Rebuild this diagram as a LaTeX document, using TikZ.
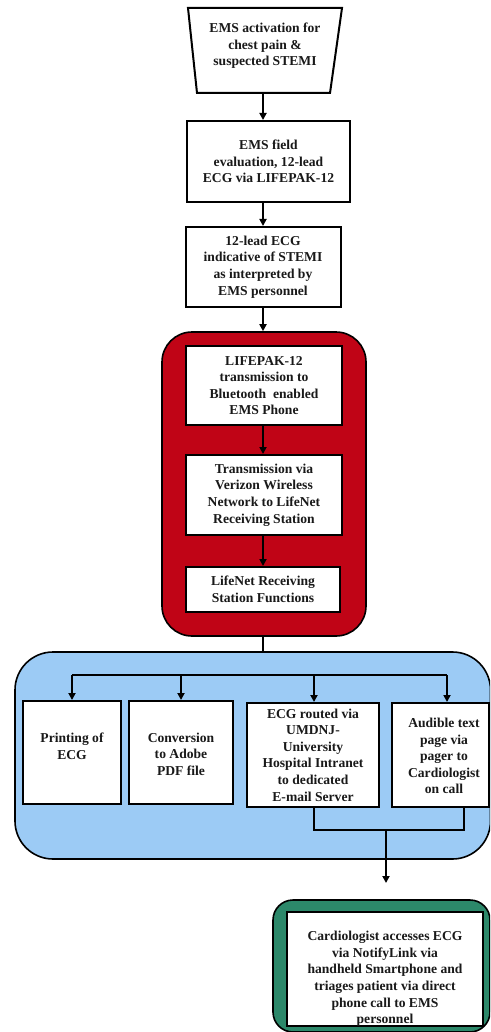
\documentclass[tikz,border=0pt]{standalone}
\usepackage{fontspec}
\setmainfont{Liberation Serif}
\usetikzlibrary{arrows.meta}
\definecolor{stemired}{RGB}{192,4,22}
\definecolor{panelblue}{RGB}{156,203,245}
\definecolor{panelgreen}{RGB}{44,136,106}
\definecolor{inkc}{RGB}{25,25,25}
\tikzset{
  txt/.style={font=\bfseries\fontsize{13.6}{16.6}\selectfont, text=inkc, align=center, inner sep=0pt},
  stepbox/.style={draw=black, line width=2pt, fill=white, txt},
  panel/.style={draw=black, line width=1.6pt, rounded corners=#1},
  conn/.style={draw=black, line width=2.4pt},
  arr/.style={conn, -{Triangle[length=7pt,width=7pt]}}
}
\begin{document}
\begin{tikzpicture}[x=1pt,y=-1pt]
\useasboundingbox (0,0) rectangle (490,1032);
\clip (0,0) rectangle (490,1032);
\fill[white] (0,0) rectangle (490,1032);

% top trapezoid
\draw[line width=2pt, fill=white] (188,8) -- (342,8) -- (330,93) -- (197,93) -- cycle;
\node[txt] (t1) at (265,46) {EMS activation for\\chest pain \&\\suspected STEMI};
\coordinate (t1b) at (263,93);

\node[stepbox, minimum width=163, minimum height=81] (b2) at (268.5,161.5) {EMS field\\evaluation, 12-lead\\ECG via LIFEPAK-12};
\node[stepbox, minimum width=155, minimum height=80] (b3) at (263,267) {12-lead ECG\\indicative of STEMI\\as interpreted by\\EMS personnel};

% red panel
\node[panel=30pt, fill=stemired, minimum width=204, minimum height=304, inner sep=0pt] (red) at (264,484) {};
\node[stepbox, minimum width=156, minimum height=79] (r1) at (264,385.5) {LIFEPAK-12\\transmission to\\Bluetooth\ \ enabled\\EMS Phone};
\node[stepbox, minimum width=156, minimum height=80] (r2) at (264,495) {Transmission via\\Verizon Wireless\\Network to LifeNet\\Receiving Station};
\node[stepbox, minimum width=154, minimum height=45] (r3) at (263,589.5) {LifeNet Receiving\\Station Functions};

% blue panel
\node[panel=38pt, fill=panelblue, minimum width=475.5, minimum height=207, inner sep=0pt] (blue) at (252.75,755.5) {};
\node[stepbox, minimum width=98, minimum height=103] (a) at (72,752.5) {};
\node[txt] (at) at (72,746) {Printing of\\ECG};
\node[stepbox, minimum width=104, minimum height=103] (b) at (181,752.5) {};
\node[txt] (bt) at (181,754) {Conversion\\to Adobe\\PDF file};
\node[stepbox, minimum width=132, minimum height=104] (c) at (313,755) {ECG routed via\\UMDNJ-\\University\\Hospital Intranet\\to dedicated\\E-mail Server};
\node[stepbox, minimum width=97, minimum height=104] (d) at (440.5,755) {};
\node[txt] (dt) at (444,756) {Audible text\\page via\\pager to\\Cardiologist\\on call};

% green panel
\node[panel=20pt, fill=panelgreen, minimum width=217, minimum height=132, inner sep=0pt] (green) at (381.5,966) {};
\node[draw=black, line width=2pt, fill=white, minimum width=196, minimum height=114, inner sep=0pt] (g) at (385,969) {};
\node[txt] (gt) at (385,979) {Cardiologist accesses ECG\\via NotifyLink via\\handheld Smartphone and\\triages patient via direct\\phone call to EMS\\personnel};

% connectors
\coordinate (dl) at (72,675);
\coordinate (dr) at (447,675);
\coordinate (jn) at (314,830);
\coordinate (jr) at (464,830);
\coordinate (jm) at (386,830);
\coordinate (tip) at (386,883);

\draw[arr] (t1b) -- (t1b |- b2.north);
\draw[arr] (b2.south -| b3) -- (b3.north);
\draw[arr] (b3.south) -- (b3.south |- red.north);
\draw[arr] (r1.south -| r3) -- (r2.north -| r3);
\draw[arr] (r2.south -| r3) -- (r3.north);
\draw[conn] (r3.south |- red.south) -- (r3.south |- blue.north);
\draw[conn] (dl) -- (dr);
\draw[arr] (dl) -- (a.north);
\draw[arr] (dl -| b) -- (b.north);
\draw[arr] (dl -| jn) -- (c.north -| jn);
\draw[arr] (dr) -- (dr |- d.north);
\draw[conn] (c.south -| jn) -- (jn) -- (jr) -- (jr |- d.south);
\draw[arr] (jm) -- (tip);
\end{tikzpicture}
\end{document}
